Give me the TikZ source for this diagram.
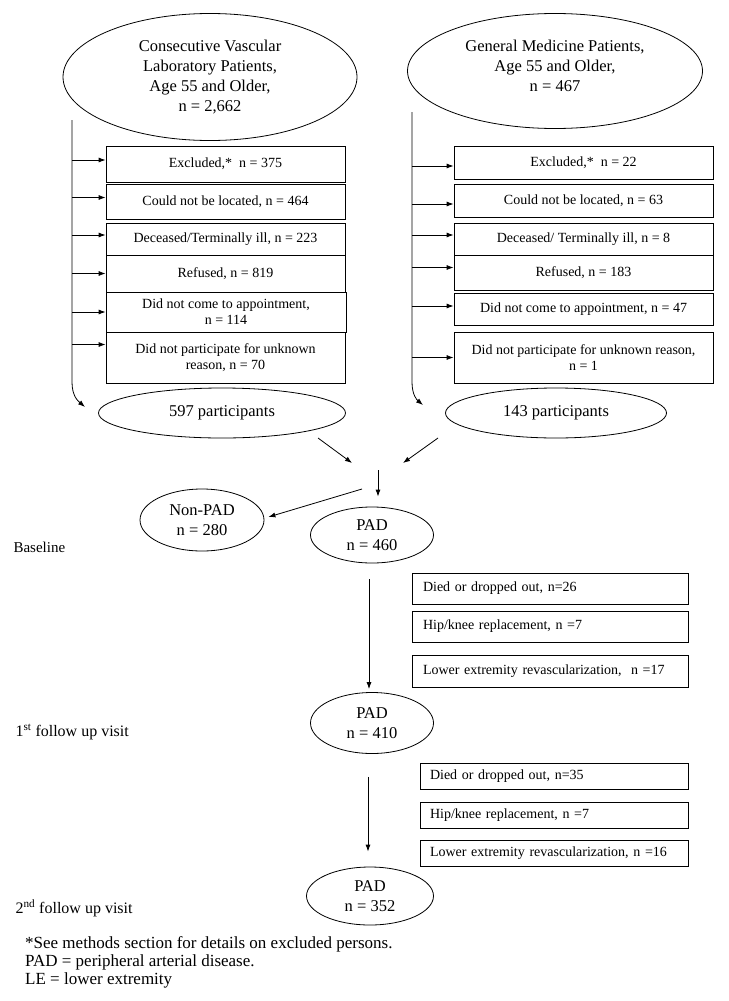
\documentclass[tikz,border=0pt]{standalone}
\usepackage{fontspec}
\setmainfont{Liberation Serif}
\usetikzlibrary{shapes.geometric,arrows.meta}
\begin{document}
\begin{tikzpicture}[x=1pt,y=-1pt,
 every node/.style={font=\fontsize{14}{16}\selectfont},
 oval/.style={draw, ellipse, inner sep=0pt, align=center, font=\fontsize{16.5}{20}\selectfont, line width=0.8pt},
 box/.style={draw, rectangle, inner sep=0pt, align=center, line width=0.8pt, minimum width=#1},
 lboxA/.style={draw, rectangle, inner ysep=0pt, inner xsep=11pt, text width=254pt, align=left, line width=0.8pt, font=\fontsize{14}{16}\selectfont},
 lboxB/.style={draw, rectangle, inner ysep=0pt, inner xsep=10pt, text width=248pt, align=left, line width=0.8pt, font=\fontsize{14}{16}\selectfont},
 side/.style={anchor=west, font=\fontsize{16}{18}\selectfont},
 arr/.style={-{Latex[length=7pt,width=5pt]}, line width=0.8pt},
 ln/.style={line width=0.8pt}]
\path[use as bounding box, fill=white] (0,0) rectangle (728,1001);

% top ellipses
\node[oval, minimum width=294pt, minimum height=127pt] (cv) at (210,77) {Consecutive Vascular\\Laboratory Patients,\\Age 55 and Older,\\n = 2,662};
\node[oval, minimum width=295pt, minimum height=115pt, text depth=10pt] (gm) at (555,71) {General Medicine Patients,\\Age 55 and Older,\\n = 467};

% left boxes
\node[box=239pt, minimum height=36pt] (b1) at (225.5,164) {Excluded,*~ n = 375};
\node[box=239pt, minimum height=35pt] (b2) at (225.5,201.5) {Could not be located, n = 464};
\node[box=239pt, minimum height=32pt] (b3) at (225.5,239) {Deceased/Terminally ill, n = 223};
\node[box=239pt, minimum height=37pt] (b4) at (225.5,273.5) {Refused, n = 819};
\node[box=240pt, minimum height=40pt] (b5) at (226,312) {Did not come to appointment,\\n = 114};
\node[box=239pt, minimum height=51pt] (b6) at (225.5,357.5) {Did not participate for unknown\\reason, n = 70};

% right boxes
\node[box=259pt, minimum height=33pt] (r1) at (583.5,162.5) {Excluded,*~ n = 22};
\node[box=259pt, minimum height=33pt] (r2) at (583.5,200.5) {Could not be located, n = 63};
\node[box=259pt, minimum height=32pt] (r3) at (583.5,239) {Deceased/ Terminally ill, n = 8};
\node[box=259pt, minimum height=35pt] (r4) at (583.5,272.5) {Refused, n = 183};
\node[box=259pt, minimum height=32pt] (r5) at (583.5,309) {Did not come to appointment, n = 47};
\node[box=259pt, minimum height=51pt] (r6) at (583.5,357.5) {Did not participate for unknown reason,\\n = 1};

% participants
\node[oval, minimum width=247pt, minimum height=50pt] (p1) at (222,413) {597 participants};
\node[oval, minimum width=221pt, minimum height=50pt] (p2) at (556,413) {143 participants};

% PAD ellipses
\node[oval, minimum width=124pt, minimum height=62pt] (np) at (202,520) {Non-PAD\\n = 280};
\node[oval, minimum width=123pt, minimum height=56pt] (pad1) at (372,535) {PAD\\n = 460};
\node[oval, minimum width=123pt, minimum height=61pt] (pad2) at (372,723) {PAD\\n = 410};
\node[oval, minimum width=127pt, minimum height=58pt] (pad3) at (370,896) {PAD\\n = 352};

% loss boxes
\node[lboxA, minimum height=31pt] (d1) at (550,588.5) {Died or dropped out, n=26};
\node[lboxA, minimum height=31pt] (d2) at (550,626.5) {Hip/knee replacement, n =7};
\node[lboxA, minimum height=32pt] (d3) at (550,671) {Lower extremity revascularization,~ n =17};
\node[lboxB, minimum height=26pt] (e1) at (554,776) {Died or dropped out, n=35};
\node[lboxB, minimum height=26pt] (e2) at (554,815) {Hip/knee replacement, n =7};
\node[lboxB, minimum height=26pt] (e3) at (554,853) {Lower extremity revascularization, n =16};

% side labels
\node[side, font=\fontsize{15}{18}\selectfont] (bl) at (10,547) {Baseline};
\node[side] (f1) at (12,732) {1\textsuperscript{st} follow up visit};
\node[side] (f2) at (12,908) {2\textsuperscript{nd} follow up visit};

% footnote
\node[anchor=north west, align=left, inner sep=0pt, font=\fontsize{17}{18}\selectfont] (fn) at (25,936)
 {*See methods section for details on excluded persons.\\PAD = peripheral arterial disease.\\LE = lower extremity};

% left connector
\coordinate (lt) at (72,120);
\coordinate (lc) at (72,382);
\coordinate (le) at (85,407);
\draw[arr] (lt) -- (lc) .. controls (72,396) and (78,401) .. (le);
\draw[arr] ([yshift=4pt]lt |- b1.west) -- ([yshift=4pt]b1.west);
\draw[arr] ([yshift=4pt]lt |- b2.west) -- ([yshift=4pt]b2.west);
\draw[arr] ([yshift=4pt]lt |- b3.west) -- ([yshift=4pt]b3.west);
\draw[arr] (lt |- b4.west) -- (b4.west);
\draw[arr] (lt |- b5.west) -- (b5.west);
\draw[arr] ([yshift=13pt]lt |- b6.west) -- ([yshift=13pt]b6.west);

% right connector
\coordinate (rt) at (412,112);
\coordinate (rc) at (412,382);
\coordinate (re) at (423,405);
\draw[arr] (rt) -- (rc) .. controls (412,395) and (417,400) .. (re);
\draw[arr] ([yshift=-3.5pt]rt |- r1.west) -- ([yshift=-3.5pt]r1.west);
\draw[arr] ([yshift=-3.5pt]rt |- r2.west) -- ([yshift=-3.5pt]r2.west);
\draw[arr] ([yshift=4pt]rt |- r3.west) -- ([yshift=4pt]r3.west);
\draw[arr] ([yshift=5pt]rt |- r4.west) -- ([yshift=5pt]r4.west);
\draw[arr] ([yshift=3pt]rt |- r5.west) -- ([yshift=3pt]r5.west);
\draw[arr] (rt |- r6.west) -- (r6.west);

% merge
\coordinate (m1s) at (318,438);
\coordinate (m1e) at (352,463);
\coordinate (m2s) at (438,438);
\coordinate (m2e) at (403,463);
\coordinate (md) at (378,470);
\coordinate (ms) at (362,489);
\draw[arr] (m1s) -- (m1e);
\draw[arr] (m2s) -- (m2e);
\draw[arr, shorten >=10pt] (md) -- (md |- pad1.north);
\draw[arr] (ms) -- ([xshift=4pt,yshift=3pt]np.east);

% PAD chain
\draw[arr, shorten <=16pt, shorten >=3pt] ([xshift=-3pt]pad1.south) -- ([xshift=-3pt]pad1.south |- pad2.north);
\draw[arr, shorten <=23pt, shorten >=15pt] ([xshift=-4pt]pad2.south) -- ([xshift=-4pt]pad2.south |- pad3.north);
\end{tikzpicture}
\end{document}
